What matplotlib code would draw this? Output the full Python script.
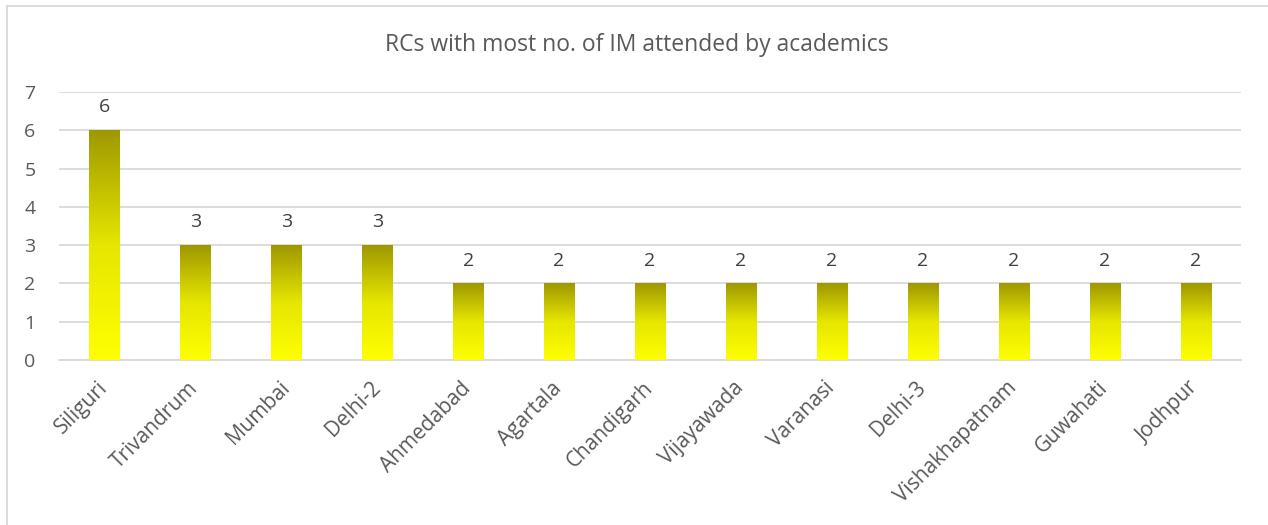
import matplotlib
matplotlib.use("Agg")
import matplotlib.pyplot as plt
import numpy as np
from matplotlib.colors import LinearSegmentedColormap
from matplotlib.lines import Line2D

categories = ["Siliguri", "Trivandrum", "Mumbai", "Delhi-2", "Ahmedabad", "Agartala",
              "Chandigarh", "Vijayawada", "Varanasi", "Delhi-3", "Vishakhapatnam",
              "Guwahati", "Jodhpur"]
values = [6, 3, 3, 3, 2, 2, 2, 2, 2, 2, 2, 2, 2]
yticks = [0, 1, 2, 3, 4, 5, 6, 7]
title = "RCs with most no. of IM attended by academics"

plt.rcParams['font.family'] = ['Open Sans', 'DejaVu Sans']

fig = plt.figure(figsize=(12.68, 5.25), dpi=100)
W, H = 1268, 525
ax = fig.add_axes([59 / W, 1 - 360 / H, (1241 - 59) / W, (360 - 92) / H])

x = np.arange(len(categories))
bars = ax.bar(x, values, width=0.33, color="#E8E800", zorder=2, linewidth=0)

cmap = LinearSegmentedColormap.from_list("g", ["#FFFF00", "#E6E600", "#9E9800"])
grad = np.linspace(0, 1, 256).reshape(-1, 1)
for b in bars:
    bx, by = b.get_x(), b.get_y()
    bw, bh = b.get_width(), b.get_height()
    im = ax.imshow(grad, cmap=cmap, aspect="auto", origin="lower",
                   extent=[bx, bx + bw, by, by + bh], zorder=3, interpolation="bilinear")
    im.set_clip_path(b)

ax.set_xlim(-0.5, len(categories) - 0.5)
ax.set_ylim(0, 7)
ax.set_yticks(yticks)
ax.grid(axis="y", color="#D9D9D9", linewidth=1.3, zorder=0)
ax.set_axisbelow(True)
for s in ["top", "right", "left"]:
    ax.spines[s].set_visible(False)
ax.spines["bottom"].set_color("#D9D9D9")
ax.spines["bottom"].set_linewidth(1.3)
ax.tick_params(axis="both", length=0, labelcolor="#595959")
ax.tick_params(axis="y", pad=17, labelsize=14)
ax.set_xticks(x)
ax.set_xticklabels(categories, rotation=45, ha="right", va="center", rotation_mode="anchor",
                   fontsize=15)
ax.tick_params(axis="x", pad=18)

for xi, v in zip(x, values):
    ax.annotate(str(v), (xi, v), xytext=(0, 10), textcoords="offset points",
                ha="center", va="bottom", fontsize=14, color="#404040")

fig.text(637 / W, 1 - 45 / H, title, ha="center", va="center", fontsize=16.5, color="#595959")

# chart border
fig.add_artist(Line2D([7 / W, 7 / W], [0, 1 - 6 / H], transform=fig.transFigure,
                      color="#D9D9D9", linewidth=1.3))
fig.add_artist(Line2D([7 / W, 1], [1 - 6 / H, 1 - 6 / H], transform=fig.transFigure,
                      color="#D9D9D9", linewidth=1.3))

fig.savefig("out.png", dpi=100, facecolor="white")
